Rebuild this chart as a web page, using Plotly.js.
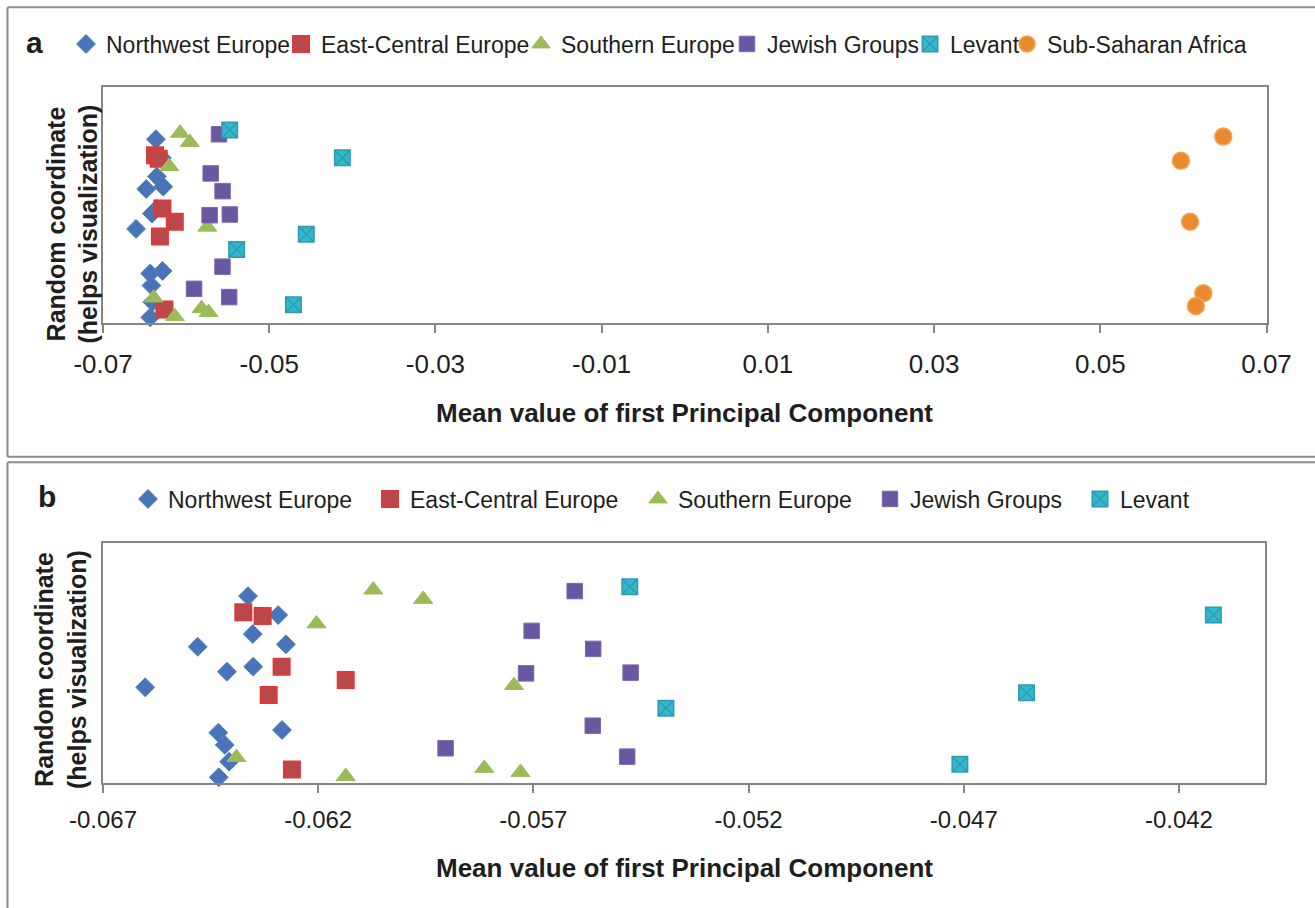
<!DOCTYPE html>
<html>
<head>
<meta charset="utf-8">
<script src="https://cdn.plot.ly/plotly-3.0.1.min.js"></script>
<style>html,body{margin:0;padding:0;background:#fff;}#chart{width:1315px;height:908px;}</style>
</head>
<body>
<div id="chart"></div>
<script>
// ---------- data ----------
const groupNames = ['Northwest Europe', 'East-Central Europe', 'Southern Europe', 'Jewish Groups', 'Levant', 'Sub-Saharan Africa'];

const nwEuropeX = [-0.06363, -0.06293, -0.06352, -0.06480, -0.06275, -0.06351, -0.06412, -0.06602, -0.06432, -0.06284, -0.06417, -0.06407, -0.06431];
const nwEuropeY = [0.780, 0.701, 0.622, 0.569, 0.579, 0.486, 0.465, 0.400, 0.211, 0.222, 0.160, 0.090, 0.025];

const ecEuropeX = [-0.06374, -0.06329, -0.06285, -0.06136, -0.06315, -0.06261];
const ecEuropeY = [0.7125, 0.697, 0.486, 0.430, 0.368, 0.058];

const sEuropeX = [-0.06072, -0.06204, -0.06390, -0.06136, -0.05956, -0.05745, -0.05814, -0.05730];
const sEuropeY = [0.806, 0.665, 0.108, 0.029, 0.767, 0.408, 0.063, 0.046];

const jewishX = [-0.05604, -0.05704, -0.05561, -0.05717, -0.05474, -0.05562, -0.05904, -0.05482];
const jewishY = [0.801, 0.635, 0.560, 0.458, 0.461, 0.240, 0.146, 0.111];

const levantX = [-0.05476, -0.05392, -0.04120, -0.04554, -0.04709];
const levantY = [0.819, 0.3125, 0.701, 0.3775, 0.079];

const africaX = [0.0648, 0.0597, 0.0608, 0.0624, 0.0615];
const africaY = [0.791, 0.689, 0.4305, 0.127, 0.073];

const tickLabelsA = ['-0.07', '-0.05', '-0.03', '-0.01', '0.01', '0.03', '0.05', '0.07'];
const tickLabelsB = ['-0.067', '-0.062', '-0.057', '-0.052', '-0.047', '-0.042'];

const xTitle = 'Mean value of first Principal Component';
const yTitle = 'Random coordinate<br>(helps visualization)';

// ---------- styles ----------
const W = 1315, H = 908;
const FONT = 'Liberation Sans, Arial, Helvetica, sans-serif';
const px = v => v / W;
const py = v => 1 - v / H;

const styles = [
  {symbol: 'diamond', size: 14.5, color: '#4A74B8', line: {color: '#4F81BD', width: 1}},
  {symbol: 'square', size: 16, color: '#B8484A', line: {color: '#E0383B', width: 2}},
  {symbol: 'triangle-up', size: 16.5, color: '#9BBB59', line: {color: '#9BBB59', width: 1}},
  {symbol: 'square', size: 15.5, color: '#6A57A2', line: {color: '#7E68AE', width: 1}},
  {symbol: 'square-x', size: 15.5, color: '#36B6CA', line: {color: '#2A9DB3', width: 1.5}},
  {symbol: 'circle', size: 17, color: '#EA8A30', line: {color: '#F7A24F', width: 1.5}}
];

const seriesX = [nwEuropeX, ecEuropeX, sEuropeX, jewishX, levantX, africaX];
const seriesY = [nwEuropeY, ecEuropeY, sEuropeY, jewishY, levantY, africaY];

// legend text start positions (layout, px)
const legendTextA = [103, 318, 558, 764, 947, 1044];
const legendTextB = [165, 407, 675, 907, 1117];
const LEG_OFF = 37;

const traces = [];
const layout = {
  width: W, height: H,
  margin: {l: 0, r: 0, t: 0, b: 0},
  paper_bgcolor: '#ffffff', plot_bgcolor: '#ffffff',
  font: {family: FONT, color: '#1e1e1e'},
  showlegend: true,
  annotations: [], shapes: []
};

function legendSpec(x, y) {
  return {
    orientation: 'h', x: px(x), xanchor: 'left', y: py(y), yanchor: 'middle',
    bgcolor: 'rgba(0,0,0,0)', borderwidth: 0,
    font: {family: FONT, size: 23, color: '#1e1e1e'},
    itemwidth: 30, itemclick: false, itemdoubleclick: false
  };
}

let legendIdx = 1;
// Panel a: all six groups
for (let i = 0; i < 6; i++) {
  const key = legendIdx === 1 ? 'legend' : 'legend' + legendIdx;
  layout[key] = legendSpec(legendTextA[i] - LEG_OFF, 44);
  traces.push({
    type: 'scatter', mode: 'markers', name: groupNames[i],
    x: seriesX[i], y: seriesY[i], xaxis: 'x', yaxis: 'y',
    marker: styles[i], cliponaxis: false, legend: key, showlegend: true
  });
  legendIdx++;
}
// Panel b: first five groups
for (let i = 0; i < 5; i++) {
  const key = 'legend' + legendIdx;
  layout[key] = legendSpec(legendTextB[i] - LEG_OFF, 499);
  traces.push({
    type: 'scatter', mode: 'markers', name: groupNames[i],
    x: seriesX[i], y: seriesY[i], xaxis: 'x2', yaxis: 'y2',
    marker: styles[i], cliponaxis: false, legend: key, showlegend: true
  });
  legendIdx++;
}

const axisLine = {showline: true, mirror: true, linecolor: '#868686', linewidth: 2, showgrid: false, zeroline: false};

layout.xaxis = Object.assign({}, axisLine, {
  domain: [px(103), px(1266.5)], range: [-0.07, 0.07], anchor: 'y',
  tickmode: 'array', tickvals: tickLabelsA.map(Number), ticktext: tickLabelsA,
  ticks: 'outside', ticklen: 8, tickwidth: 2, tickcolor: '#868686',
  ticklabelstandoff: 8,
  tickfont: {family: FONT, size: 26, color: '#1e1e1e'}
});
layout.yaxis = Object.assign({}, axisLine, {
  domain: [py(323.3), py(87.3)], range: [0, 1], anchor: 'x',
  showticklabels: false, ticks: ''
});
layout.xaxis2 = Object.assign({}, axisLine, {
  domain: [px(103), px(1265)], range: [-0.067, -0.040], anchor: 'y2',
  tickmode: 'array', tickvals: tickLabelsB.map(Number), ticktext: tickLabelsB,
  ticks: 'outside', ticklen: 8, tickwidth: 2, tickcolor: '#868686',
  ticklabelstandoff: 6,
  tickfont: {family: FONT, size: 24, color: '#1e1e1e'}
});
layout.yaxis2 = Object.assign({}, axisLine, {
  domain: [py(783.3), py(543.3)], range: [0, 1], anchor: 'x2',
  showticklabels: false, ticks: ''
});

function ann(text, x, y, size, angle) {
  return {text: text, x: px(x), y: py(y), xref: 'paper', yref: 'paper', showarrow: false,
    xanchor: 'center', yanchor: 'middle', textangle: angle || 0,
    font: {family: FONT, size: size, color: '#1e1e1e', weight: 'bold'}};
}
layout.annotations.push(ann('a', 34, 42, 30));
layout.annotations.push(ann('b', 47, 496, 30));
layout.annotations.push(ann('<b>' + xTitle + '</b>', 684, 413, 26));
layout.annotations.push(ann('<b>' + xTitle + '</b>', 684, 868, 26));
layout.annotations.push(ann('<b>' + yTitle + '</b>', 71.5, 224, 25, -90));
layout.annotations.push(ann('<b>' + yTitle + '</b>', 60, 670, 25, -90));

// panel frames
const frameLine = {color: '#8c8c8c', width: 2};
function seg(x0, y0, x1, y1) {
  return {type: 'line', xref: 'paper', yref: 'paper', x0: px(x0), y0: py(y0), x1: px(x1), y1: py(y1), line: frameLine, layer: 'below'};
}
layout.shapes.push(seg(7.5, 7.3, 1315, 7.3));
layout.shapes.push(seg(7.5, 7.3, 7.5, 456.7));
layout.shapes.push(seg(7.5, 456.7, 1315, 456.7));
layout.shapes.push(seg(7.5, 462.3, 1315, 462.3));
layout.shapes.push(seg(7.5, 462.3, 7.5, 908));

Plotly.newPlot('chart', traces, layout, {displayModeBar: false, staticPlot: true});
</script>
</body>
</html>
